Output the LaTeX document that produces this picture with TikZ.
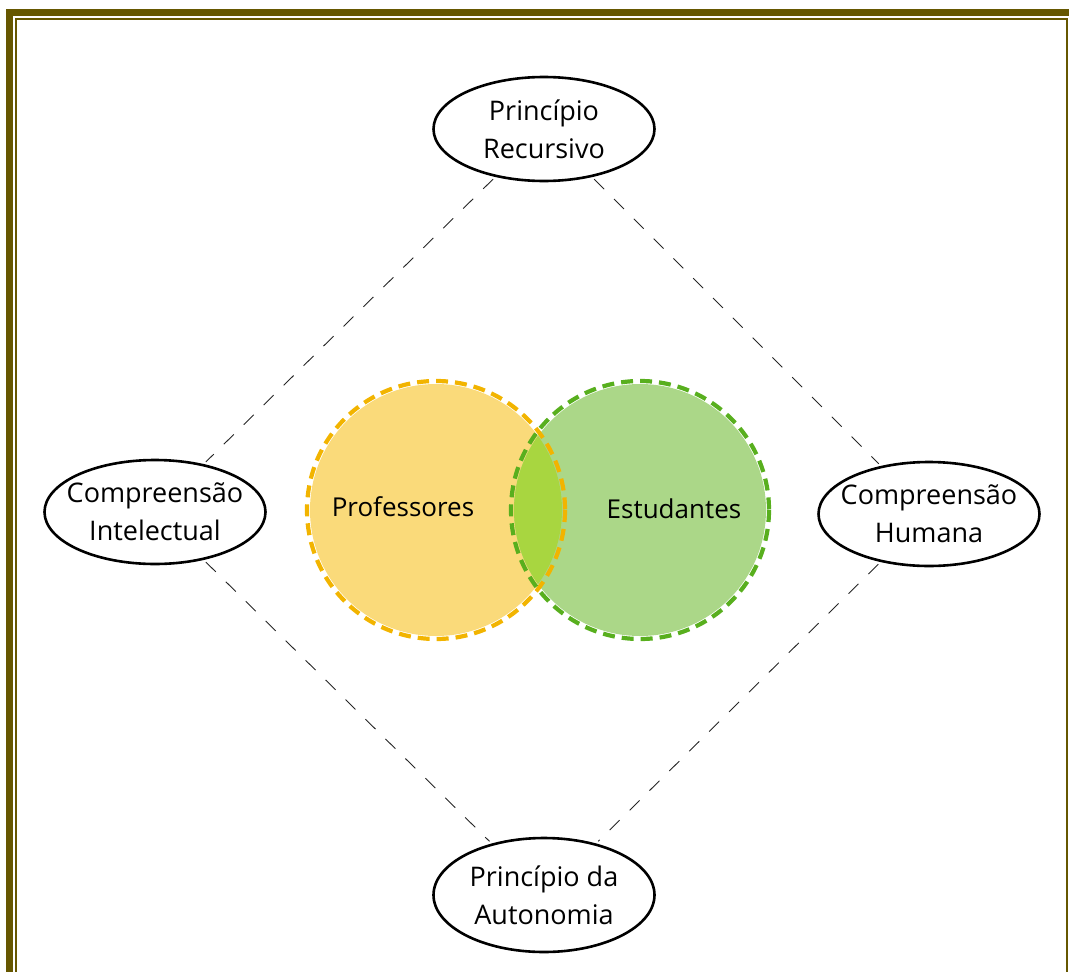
\documentclass[tikz,border=0pt]{standalone}
\usepackage{fontspec}
\setmainfont{Open Sans}
\usetikzlibrary{shapes.geometric}
\definecolor{frameOlive}{RGB}{102,87,0}
\definecolor{profFill}{RGB}{250,218,122}
\definecolor{profLine}{RGB}{242,180,0}
\definecolor{estFill}{RGB}{171,215,136}
\definecolor{estLine}{RGB}{88,175,30}
\definecolor{overlapFill}{RGB}{168,214,64}
\newcommand\circR{129}
\newcommand\fillR{126}
\newcommand\profX{436}
\newcommand\estX{640}
\newcommand\vennY{510}
\tikzset{
  principle/.style={draw, ellipse, line width=2.6pt, minimum width=221pt, minimum height=104pt,
    inner xsep=-15pt, inner ysep=0pt, align=center, font=\fontsize{27}{38}\selectfont},
  link/.style={dash pattern=on 14pt off 14pt, line width=0.9pt, black!85, shorten <=3pt, shorten >=3pt},
  venn/.style={dash pattern=on 12pt off 7pt, line width=4.2pt},
  group/.style={font=\fontsize{26}{30}\selectfont}
}

\begin{document}
\begin{tikzpicture}[x=1pt, y=-1pt]
    \useasboundingbox (0,0) rectangle (1069,972);
    \clip (0,0) rectangle (1069,972);

    % frame
    \draw[frameOlive, line width=6.7pt] (9.35,1000) |- (1100,12.35);
    \draw[frameOlive, line width=2.2pt] (15.7,1000) |- (1067.3,19.3) -- (1067.3,1000);

    % principles
    \node[principle] (rec) at (544,129) {Princípio\\Recursivo};
    \node[principle] (intel) at (155,512) {Compreensão\\Intelectual};
    \node[principle] (hum) at (929,514) {Compreensão\\Humana};
    \node[principle, minimum height=114pt] (auto) at (544,895) {Princípio da\\Autonomia};

    \draw[link] (rec) -- (intel);
    \draw[link] (rec) -- (hum);
    \draw[link] (intel) -- (auto);
    \draw[link] (hum) -- (auto);

    % venn
    \fill[profFill] (\profX,\vennY) circle (\fillR);
    \fill[estFill] (\estX,\vennY) circle (\fillR);
    \begin{scope}
      \clip (\profX,\vennY) circle (\fillR);
      \fill[overlapFill] (\estX,\vennY) circle (\fillR);
    \end{scope}
    \draw[venn, profLine] (\profX,\vennY) circle (\circR);
    \draw[venn, estLine] (\estX,\vennY) circle (\circR);

    \node[group] (prof) at (403,507) {Professores};
    \node[group] (est) at (674,509) {Estudantes};
\end{tikzpicture}
\end{document}
